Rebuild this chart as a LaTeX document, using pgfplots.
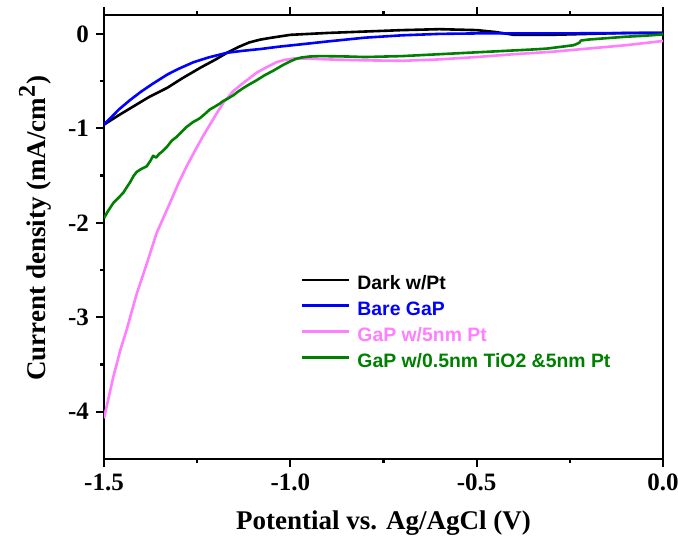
\documentclass[border=0pt]{standalone}
\usepackage{fontspec}
\setmainfont{Liberation Serif}
\setsansfont{Liberation Sans}
\usepackage{pgfplots}
\pgfplotsset{compat=1.18}
\definecolor{cpink}{HTML}{FF80FF}
\definecolor{cgreen}{HTML}{008000}
\definecolor{cblue}{HTML}{0000FF}
\newcommand{\lstrut}{\rule[-3pt]{0pt}{14.4pt}}

\begin{document}
\begin{tikzpicture}
\begin{axis}[
 name=ax,
 scale only axis,width=279.5pt,height=222pt,
 xmin=-1.5,xmax=0,ymin=-4.5,ymax=0.2,
 xtick={-1.5,-1,-0.5,0},ytick={-4,-3,-2,-1,0},
 minor x tick num=1,minor y tick num=1,
 xtick pos=both,ytick pos=left,
 tick align=outside,
 major tick length=4pt,minor tick length=2pt,
 axis line style={line width=1.3pt},
 every tick/.style={line width=1.1pt,black},
 tick label style={font=\fontsize{12.5}{14}\selectfont\bfseries},
 /pgf/number format/assume math mode=true,
 xticklabel style={/pgf/number format/fixed,/pgf/number format/precision=1,/pgf/number format/fixed zerofill},
 xlabel={Potential vs. Ag/AgCl (V)},
 ylabel={Current density (mA/cm\textsuperscript{\large 2})},
 label style={font=\fontsize{13.5}{15}\selectfont\bfseries},
 xlabel style={at={(axis description cs:0.5,-0.1441)},anchor=center},
 ylabel style={at={(axis description cs:-0.1234,0.52)},anchor=center},
 legend style={at={(axis cs:-0.989,-2.42)},anchor=north west,draw=none,fill=none,
   font=\sffamily\bfseries\fontsize{9.7}{11}\selectfont,
   nodes={inner sep=0pt},row sep=0pt,
   /tikz/every odd column/.style={column sep=3.5pt}},
 legend cell align=left,
 legend image code/.code={\draw[#1,line width=1.3pt] (0pt,0pt) -- (23.5pt,0pt);},
 every axis plot/.append style={line width=1.3pt,line join=round}
]
\addplot[black] coordinates {
(-1.5,-0.96) (-1.46,-0.86) (-1.42,-0.765) (-1.38,-0.67) (-1.33,-0.57) (-1.29,-0.47)
(-1.24,-0.355) (-1.2,-0.27) (-1.17,-0.20) (-1.14,-0.14) (-1.11,-0.09) (-1.08,-0.06)
(-1.05,-0.04) (-1.0,-0.01) (-0.95,0.0)
(-0.9,0.01) (-0.8,0.025) (-0.7,0.04) (-0.6,0.05) (-0.5,0.04) (-0.45,0.02)
(-0.4,-0.01) (-0.3,-0.01) (-0.2,0.0) (-0.1,0.01) (0,0.01)
};
\addlegendentry{\lstrut Dark w/Pt}
\addplot[cblue] coordinates {
(-1.5,-0.96) (-1.46,-0.80) (-1.43,-0.70) (-1.40,-0.61) (-1.37,-0.53) (-1.33,-0.43)
(-1.30,-0.37) (-1.26,-0.30) (-1.22,-0.25) (-1.17,-0.20) (-1.13,-0.18) (-1.08,-0.16)
(-1.03,-0.135) (-0.97,-0.11) (-0.9,-0.08)
(-0.8,-0.04) (-0.7,-0.015) (-0.6,0.0) (-0.5,0.005) (-0.3,0.005) (0,0.01)
};
\addlegendentry{\lstrut\textcolor{cblue}{Bare GaP}}
\addplot[cpink] coordinates {
(-1.5,-4.07) (-1.475,-3.63) (-1.455,-3.33) (-1.439,-3.13) (-1.425,-2.93) (-1.412,-2.75)
(-1.385,-2.43) (-1.359,-2.11) (-1.323,-1.79) (-1.30,-1.58) (-1.278,-1.40) (-1.255,-1.23)
(-1.234,-1.08) (-1.205,-0.89) (-1.18,-0.73) (-1.153,-0.605) (-1.12,-0.50) (-1.09,-0.41)
(-1.06,-0.345) (-1.037,-0.30) (-1.015,-0.275) (-0.99,-0.26)
(-0.95,-0.262) (-0.9,-0.27) (-0.8,-0.28) (-0.7,-0.285) (-0.6,-0.27) (-0.5,-0.245)
(-0.4,-0.215) (-0.3,-0.19) (-0.2,-0.155) (-0.1,-0.12) (0,-0.075)
};
\addlegendentry{\lstrut\textcolor{cpink}{GaP w/5nm Pt}}
\addplot[cgreen] coordinates {
(-1.5,-1.95) (-1.49,-1.88) (-1.475,-1.79) (-1.46,-1.73) (-1.448,-1.68) (-1.44,-1.63)
(-1.43,-1.57) (-1.42,-1.50) (-1.412,-1.46) (-1.40,-1.43) (-1.385,-1.40) (-1.375,-1.34)
(-1.368,-1.29) (-1.36,-1.31) (-1.352,-1.27) (-1.345,-1.25) (-1.33,-1.19) (-1.318,-1.13)
(-1.305,-1.09) (-1.29,-1.03) (-1.28,-0.99) (-1.27,-0.96) (-1.26,-0.93) (-1.25,-0.91)
(-1.242,-0.89) (-1.23,-0.85) (-1.216,-0.80) (-1.207,-0.78) (-1.19,-0.74) (-1.18,-0.71)
(-1.17,-0.69) (-1.153,-0.65) (-1.14,-0.61) (-1.125,-0.57) (-1.108,-0.53) (-1.09,-0.49)
(-1.07,-0.44) (-1.046,-0.39) (-1.02,-0.33) (-1.00,-0.29) (-0.985,-0.265) (-0.97,-0.25)
(-0.95,-0.24) (-0.92,-0.235) (-0.88,-0.237) (-0.84,-0.24) (-0.80,-0.245) (-0.75,-0.24)
(-0.70,-0.235) (-0.65,-0.225) (-0.60,-0.215) (-0.55,-0.205) (-0.50,-0.195) (-0.45,-0.185)
(-0.40,-0.175) (-0.35,-0.165) (-0.31,-0.155) (-0.28,-0.14) (-0.24,-0.12) (-0.225,-0.095)
(-0.22,-0.07) (-0.20,-0.06) (-0.15,-0.045) (-0.10,-0.03) (-0.05,-0.02) (0,-0.005)
};
\addlegendentry{\lstrut\textcolor{cgreen}{GaP w/0.5nm TiO2 \&5nm Pt}}
\end{axis}
\pgfresetboundingbox
\path ([xshift=-52pt,yshift=-38pt]ax.south west) rectangle ([xshift=7.5pt,yshift=7.5pt]ax.north east);
\end{tikzpicture}
\end{document}
